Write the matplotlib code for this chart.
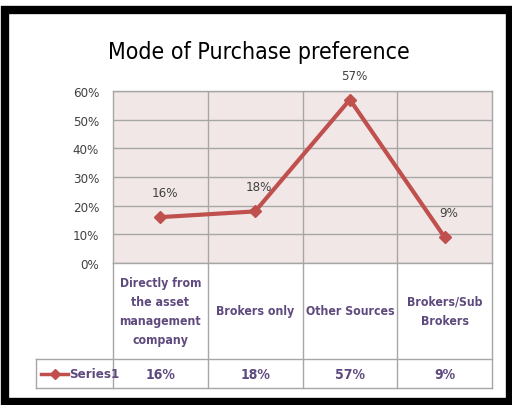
import matplotlib
matplotlib.use("Agg")
import matplotlib.pyplot as plt
from matplotlib.patches import Rectangle

categories = ["Directly from\nthe asset\nmanagement\ncompany", "Brokers only", "Other Sources", "Brokers/Sub\nBrokers"]
values = [0.16, 0.18, 0.57, 0.09]
value_labels = ["16%", "18%", "57%", "9%"]
yticks = [0, 0.1, 0.2, 0.3, 0.4, 0.5, 0.6]
ytick_labels = ["0%", "10%", "20%", "30%", "40%", "50%", "60%"]
series_name = "Series1"
title = "Mode of Purchase preference"

fam = "DejaVu Sans"
st = "condensed"

red = "#C0504D"
purple = "#5F4A7E"
grid = "#A6A6A6"

fig = plt.figure(figsize=(5.12, 4.06), dpi=100)
fig.patch.set_facecolor("white")
fig.add_artist(Rectangle((5/512, 3/406), 505/512, 392/406, transform=fig.transFigure,
                         facecolor="none", edgecolor="black", linewidth=6))

ax = fig.add_axes([113/512, 142/406, 379/512, 172/406])
ax.set_facecolor("#F2E7E7")
ax.set_xlim(-0.5, len(categories) - 0.5)
ax.set_ylim(0, 0.6)
ax.set_yticks(yticks)
ax.set_yticklabels(ytick_labels, fontfamily=fam, fontstretch=st, fontsize=9.5, color="#404040")
ax.tick_params(axis="y", length=0, pad=10)
ax.set_xticks([0.5, 1.5, 2.5])
ax.tick_params(axis="x", length=0, labelbottom=False)
ax.grid(True, color=grid, linewidth=1)
ax.set_axisbelow(True)
for s in ax.spines.values():
    s.set_color(grid)
    s.set_linewidth(1)

xs = list(range(len(categories)))
ax.plot(xs, values, color=red, linewidth=3, marker="D", markersize=6.5, zorder=3, clip_on=False)
for x, v, lab in zip(xs, values, value_labels):
    ax.annotate(lab, (x, v), xytext=(3, 13), textcoords="offset points", ha="center",
                va="bottom", fontfamily=fam, fontstretch=st, fontsize=9.5, color="#404040")

fig.text(259/512, 1 - 53/406, title, ha="center", va="center", fontfamily=fam, fontstretch=st,
         fontsize=16.6, color="black")

r1 = -0.558
r2 = -0.727
lx = -0.203
T = ax.transAxes
xt = ax.get_xaxis_transform()
for b in [-0.5, 0.5, 1.5, 2.5, 3.5]:
    ax.plot([b, b], [r2 * 0.6, 0], transform=ax.transData, color=grid, lw=1, clip_on=False)
for y in [r1, r2]:
    ax.plot([lx, 1], [y, y], transform=T, color=grid, lw=1, clip_on=False)
ax.plot([lx, lx], [r2, r1], transform=T, color=grid, lw=1, clip_on=False)

for x, c in zip(xs, categories):
    ax.text(x, r1 / 2, c, transform=xt, ha="center", va="center", fontfamily=fam, fontstretch=st,
            fontsize=8.8, fontweight="bold", color=purple, linespacing=1.6)
for x, lab in zip(xs, value_labels):
    ax.text(x, (r1 + r2) / 2, lab, transform=xt, ha="center", va="center", fontfamily=fam,
            fontstretch=st, fontsize=10, fontweight="bold", color=purple)

ym = (r1 + r2) / 2
ax.plot([-0.19, -0.118], [ym, ym], transform=T, color=red, lw=2.5, clip_on=False)
ax.plot([-0.154], [ym], transform=T, color=red, marker="D", markersize=5, clip_on=False)
ax.text(-0.117, ym, series_name, transform=T, ha="left", va="center", fontfamily=fam,
        fontstretch=st, fontsize=9.5, fontweight="bold", color=purple)

fig.savefig("out.png", dpi=100)
